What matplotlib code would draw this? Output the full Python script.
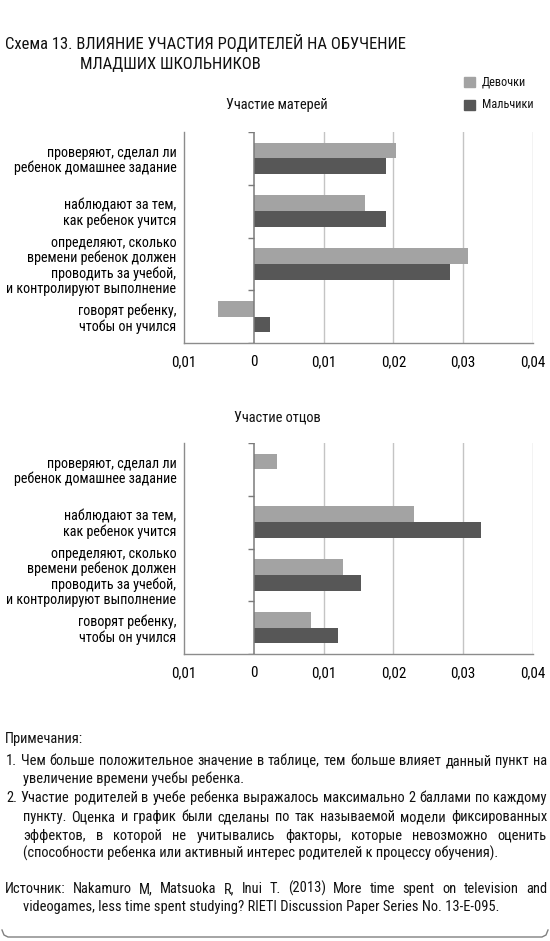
import matplotlib

matplotlib.use("Agg")

import matplotlib.pyplot as plt  # noqa: E402
from matplotlib import font_manager  # noqa: E402
from matplotlib.patches import Rectangle  # noqa: E402

categories = [
    "проверяют, сделал ли\nребенок домашнее задание",
    "наблюдают за тем,\nкак ребенок учится",
    "определяют, сколько\nвремени ребенок должен\nпроводить за учебой,\nи контролируют выполнение",
    "говорят ребенку,\nчтобы он учился",
]
mothers_girls = [0.0204, 0.0159, 0.0307, -0.0051]
mothers_boys = [0.0189, 0.0189, 0.0281, 0.0023]
fathers_girls = [0.0033, 0.0230, 0.0128, 0.0082]
fathers_boys = [0.0, 0.0326, 0.0154, 0.0120]
x_ticks = [-0.01, 0, 0.01, 0.02, 0.03, 0.04]
x_tick_labels = ["0,01", "0", "0,01", "0,02", "0,03", "0,04"]
series_names = ["Девочки", "Мальчики"]

title_lines = ["Схема 13. ВЛИЯНИЕ УЧАСТИЯ РОДИТЕЛЕЙ НА ОБУЧЕНИЕ", "МЛАДШИХ ШКОЛЬНИКОВ"]
panel_titles = ["Участие матерей", "Участие отцов"]
notes = [
    ("Примечания:", 5, False),
    ("1. Чем больше положительное значение в таблице, тем больше влияет данный пункт на", 6, True),
    ("увеличение времени учебы ребенка.", 23, False),
    ("2. Участие родителей в учебе ребенка выражалось максимально 2 баллами по каждому", 6, True),
    ("пункту. Оценка и график были сделаны по так называемой модели фиксированных", 23, True),
    ("эффектов, в которой не учитывались факторы, которые невозможно оценить", 23, True),
    ("(способности ребенка или активный интерес родителей к процессу обучения).", 23, False),
]
source = [
    ("Источник: Nakamuro M, Matsuoka R, Inui T. (2013) More time spent on television and", 5, True),
    ("videogames, less time spent studying? RIETI Discussion Paper Series No. 13-E-095.", 23, False),
]

GIRLS = "#a3a3a3"
BOYS = "#575757"
W, H = 550, 941

available = {f.name for f in font_manager.fontManager.ttflist}
FONT = "DejaVu Sans"
for cand in ["Roboto Condensed", "Fira Sans Condensed", "IBM Plex Sans Condensed", "Liberation Sans Narrow"]:
    if cand in available:
        FONT = cand
        break
plt.rcParams["font.family"] = [FONT, "DejaVu Sans"]
plt.rcParams["font.stretch"] = "condensed"
plt.rcParams["text.color"] = "#111111"

fig = plt.figure(figsize=(W / 100, H / 100), dpi=100)
renderer = fig.canvas.get_renderer()


def fit_size(text, target_px, probe=10.0):
    t = fig.text(0, 0, text, fontsize=probe)
    w = t.get_window_extent(renderer).width
    t.remove()
    return probe * target_px / w


def fx(px):
    return px / W


def fy(py):
    return 1 - py / H


LABEL_SIZE = fit_size("и контролируют выполнение", 172)
TICK_SIZE = fit_size("0,04", 25)
TITLE_SIZE = fit_size(title_lines[0], 402)
SUB_SIZE = fit_size(panel_titles[0], 102)
LEG_SIZE = fit_size(series_names[1], 52)
NOTE_SIZE = fit_size(notes[-1][0], 478)


def draw_panel(ax, girls, boys):
    pos = range(len(categories))
    ax.barh([p - 0.15 for p in pos], girls, height=0.3, color=GIRLS, zorder=3)
    ax.barh([p + 0.15 for p in pos], boys, height=0.3, color=BOYS, zorder=3)
    ax.set_ylim(len(categories) - 0.5, -0.5)
    ax.set_xlim(x_ticks[0], x_ticks[-1])
    for t in x_ticks[2:]:
        ax.axvline(t, color="#c4c4c4", lw=1.0, zorder=1)
    ax.axvline(0, color="#7a7a7a", lw=1.1, zorder=4)
    bounds = [p - 0.5 for p in range(len(categories) + 1)]
    ax.hlines(bounds, -0.0008, 0, color="#7a7a7a", lw=1.0, zorder=4)
    ax.set_yticks(list(pos))
    ax.set_yticklabels(categories, fontsize=LABEL_SIZE, linespacing=1.1)
    ax.tick_params(axis="y", length=0, pad=5.5)
    ax.set_xticks(x_ticks)
    ax.set_xticklabels(x_tick_labels, fontsize=TICK_SIZE)
    ax.tick_params(axis="x", length=0, pad=8.5)
    for side in ("top", "right"):
        ax.spines[side].set_visible(False)
    for side in ("left", "bottom"):
        ax.spines[side].set_color("#8c8c8c")
        ax.spines[side].set_linewidth(1.0)


def note_line(text, x0, y, size, justify):
    # y is the visual middle of the line; words share one baseline
    base = fy(y + 4)
    if not justify:
        fig.text(fx(x0), base, text, fontsize=size, va="baseline")
        return
    words = text.split()
    items = [fig.text(0, base, w, fontsize=size, va="baseline", ha="left") for w in words]
    widths = [t.get_window_extent(renderer).width for t in items]
    gap = (547 - x0 - sum(widths)) / max(len(words) - 1, 1)
    x = x0
    for t, w in zip(items, widths):
        t.set_x(fx(x))
        x += w + gap


ax_top = fig.add_axes([fx(184), fy(343), fx(533 - 184), (343 - 132) / H])
ax_bot = fig.add_axes([fx(184), fy(654), fx(533 - 184), (654 - 443) / H])
draw_panel(ax_top, mothers_girls, mothers_boys)
draw_panel(ax_bot, fathers_girls, fathers_boys)

fig.text(fx(5), fy(43), title_lines[0], fontsize=TITLE_SIZE, va="center")
fig.text(fx(80), fy(64), title_lines[1], fontsize=TITLE_SIZE, va="center")
fig.text(fx(277), fy(105), panel_titles[0], fontsize=SUB_SIZE, ha="center", va="center")
fig.text(fx(277), fy(417), panel_titles[1], fontsize=SUB_SIZE, ha="center", va="center")

for i, (name, color) in enumerate(zip(series_names, [GIRLS, BOYS])):
    yc = 82 + 23 * i
    fig.patches.append(Rectangle((fx(464), fy(yc + 5)), fx(11), 10 / H, color=color,
                                 transform=fig.transFigure, figure=fig))
    fig.text(fx(482), fy(yc), name, fontsize=LEG_SIZE, va="center")

ys = [739, 761, 779, 798, 817, 836, 854]
for (line, x0, just), y in zip(notes + source, ys + [889, 907]):
    note_line(line, x0, y, NOTE_SIZE, just)

# frame bottom edge with rounded corners
fig.lines.append(plt.Line2D([fx(2), fx(4), fx(8), fx(542), fx(546), fx(548)],
                            [fy(930), fy(935), fy(937), fy(937), fy(935), fy(930)],
                            color="#808080", lw=1.0, transform=fig.transFigure))

fig.savefig("out.png", dpi=100)
plt.close(fig)
